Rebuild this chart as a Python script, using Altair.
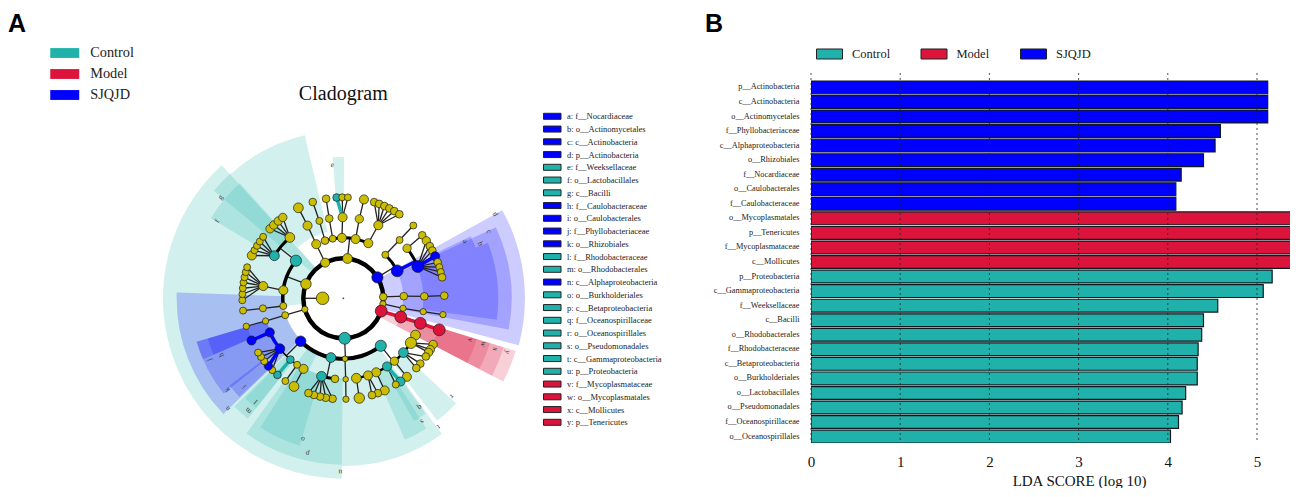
import math
import altair as alt
import pandas as pd

SERIF = "Liberation Serif"
SANS = "Liberation Sans"
TEAL, RED, BLUE, OLIVE = "#20B2AA", "#DC143C", "#0000FF", "#CBBD00"
GROUPS = ["Control", "Model", "SJQJD"]
GROUP_COLORS = [TEAL, RED, BLUE]
FILL = {"c": TEAL, "m": RED, "s": BLUE, "n": OLIVE}

# ---- Panel B: LDA scores ----
bar_taxa = ["p__Actinobacteria", "c__Actinobacteria", "o__Actinomycetales", "f__Phyllobacteriaceae",
            "c__Alphaproteobacteria", "o__Rhizobiales", "f__Nocardiaceae", "o__Caulobacterales",
            "f__Caulobacteraceae", "o__Mycoplasmatales", "p__Tenericutes", "f__Mycoplasmataceae",
            "c__Mollicutes", "p__Proteobacteria", "c__Gammaproteobacteria", "f__Weeksellaceae",
            "c__Bacilli", "o__Rhodobacterales", "f__Rhodobacteraceae", "c__Betaproteobacteria",
            "o__Burkholderiales", "o__Lactobacillales", "o__Pseudomonadales", "f__Oceanospirillaceae",
            "o__Oceanospirillales"]
bar_scores = [5.12, 5.12, 5.12, 4.59, 4.53, 4.40, 4.15, 4.09, 4.09, 5.39, 5.39, 5.39, 5.39,
              5.17, 5.07, 4.56, 4.40, 4.38, 4.34, 4.33, 4.33, 4.20, 4.16, 4.12, 4.03]
bar_groups = ["SJQJD"] * 9 + ["Model"] * 4 + ["Control"] * 12
score_ticks = [0, 1, 2, 3, 4, 5]

# ---- Panel A: taxon key ----
key_labels = ["a: f__Nocardiaceae", "b: o__Actinomycetales", "c: c__Actinobacteria", "d: p__Actinobacteria",
              "e: f__Weeksellaceae", "f: o__Lactobacillales", "g: c__Bacilli", "h: f__Caulobacteraceae",
              "i: o__Caulobacterales", "j: f__Phyllobacteriaceae", "k: o__Rhizobiales", "l: f__Rhodobacteraceae",
              "m: o__Rhodobacterales", "n: c__Alphaproteobacteria", "o: o__Burkholderiales", "p: c__Betaproteobacteria",
              "q: f__Oceanospirillaceae", "r: o__Oceanospirillales", "s: o__Pseudomonadales", "t: c__Gammaproteobacteria",
              "u: p__Proteobacteria", "v: f__Mycoplasmataceae", "w: o__Mycoplasmatales", "x: c__Mollicutes", "y: p__Tenericutes"]
key_groups = list("ssss" "ccc" "ssss" "cc" "s" "ccccccc" "mmmm")

# ---- Cladogram: taxon nodes per ring, angle in degrees clockwise from north ----
ring_radius = [20.7, 40, 60.5, 81, 101]

ring1_angle = [58.5, 88, 98, 108.6, 178, 254, 291, 333, 6]
ring1_size = [16, 11, 9, 17, 17, 9, 15, 13, 14]
ring1_group = list("snnmcnnnn")

ring2_angle = [44, 63, 88, 99.5, 108, 141.7, 178.4, 191.8, 224.8, 253.8, 262.7, 277.6, 308.4, 333.4, 342.4, 349.9, 358.7, 11.7, 24.4]
ring2_parent = [58.5, 58.5, 88, 98, 108.6, 178, 178, 178, 178, 254, 291, 291, 291, 333, 6, 6, 6, 6, 6]
ring2_size = [10, 17, 11, 9, 17, 16, 8, 14, 15, 10, 10, 13, 16, 13, 11, 10, 13, 13, 13]
ring2_group = list("nsnnmcncsnnncnnnnnn")

ring3_angle = [66.9, 51.9, 44, 88.6, 99.5, 108, 117, 123.4, 132.1, 140.9, 147.3, 156, 162.2, 170.7, 178.3, 185.9, 195.6,
               209.4, 214.8, 220.8, 231.5, 245.1, 253.7, 262.9, 278.7, 301.7, 318.7, 333.8, 342.8, 350, 359.5, 11.4, 25.6]
ring3_parent = [63, 63, 44, 88, 99.5, 108, 141.7, 141.7, 141.7, 141.7, 141.7, 141.7, 141.7, 141.7, 178.4, 191.8, 191.8,
                224.8, 224.8, 224.8, 224.8, 224.8, 253.8, 262.7, 277.6, 308.4, 308.4, 333.4, 342.4, 349.9, 358.7, 11.7, 24.4]
ring3_size = [17, 12, 10, 11, 9, 17, 14, 16, 14, 12, 13, 13, 13, 14, 8, 11, 14, 13, 10, 11, 14, 13, 9, 10, 13, 14, 14, 13, 10, 11, 13, 12, 13]
ring3_group = list("snnnnmnncnc" "nnnnnc" "nncss" "nnnc" "nnnnnnn")

ring4_angle = [43.9, 51.4, 55.3, 58.9, 61.8, 65.4, 69.1, 72, 74.9, 78, 88.5, 99.3, 108.2, 117.2, 120.5, 122.4, 125.2, 130.3, 133.7,
               141, 145.5, 148.7, 155.8, 160, 163.5, 170.9, 178.5, 186.1, 190, 193.3, 196.9, 200.2, 209.2, 215, 220.7,
               224.7, 227.9, 231.5, 234.5, 237.5, 245.3, 253.9, 263, 268.9, 272.4, 275.7, 279, 282, 285, 287.9,
               295.1, 298.4, 301.3, 304.2, 307.5, 313.5, 316.5, 319.9, 323.2, 333.6, 342.4, 350.2, 356.2, 359.4, 2.6, 11.8,
               17.8, 20.8, 24, 27.1, 30.3, 33.7]
ring4_parent = [44, 51.9, 66.9, 66.9, 66.9, 66.9, 66.9, 66.9, 66.9, 66.9, 88.6, 99.5, 108, 123.4, 123.4, 123.4, 132.1, 132.1, 132.1,
                140.9, 147.3, 147.3, 156, 162.2, 162.2, 170.7, 178.3, 195.6, 195.6, 195.6, 195.6, 195.6, 209.4, 214.8, 220.8,
                231.5, 231.5, 231.5, 231.5, 231.5, 245.1, 253.7, 262.9, 278.7, 278.7, 278.7, 278.7, 278.7, 278.7, 278.7,
                301.7, 301.7, 301.7, 301.7, 301.7, 318.7, 318.7, 318.7, 318.7, 333.8, 342.8, 350, 359.5, 359.5, 359.5, 11.4,
                25.6, 25.6, 25.6, 25.6, 25.6, 25.6]
ring4_size = [10, 11, 12, 11, 11, 13, 11, 10, 10, 11, 11, 9, 17, 12, 12, 12, 11, 11, 11,
              13, 13, 10, 13, 11, 11, 15, 9, 11, 11, 11, 11, 11, 14, 10, 11,
              10, 12, 10, 10, 10, 13, 9, 10, 10, 10, 10, 10, 10, 10, 10,
              13, 10, 10, 10, 10, 12, 12, 12, 12, 14, 11, 11, 11, 10, 10, 13,
              11, 11, 11, 11, 11, 11]
ring4_coloured = {65.4: "s", 108.2: "m", 145.5: "c", 220.7: "c", 227.9: "s", 245.3: "s", 356.2: "c"}
ring4_group = [ring4_coloured.get(a, "n") for a in ring4_angle]

# arcs that join sibling taxa on a ring
arc_level = [1, 2, 2, 2, 2, 3, 3, 3, 3, 3, 3]
arc_start = [0, 44, 141.7, 262.7, 342.4, 51.9, 117, 185.9, 209.4, 301.7, 231.5]
arc_end = [360, 63, 224.8, 308.4, 384.4, 66.9, 170.7, 195.6, 231.5, 318.7, 245.1]
arc_width = [4.5, 3, 4, 3.5, 3, 3, 2.5, 3, 1.5, 3, 3.5]
arc_group = ["k", "k", "k", "k", "k", "k", "k", "k", "k", "k", "s"]
stub_parents = {(1, 58.5), (1, 178), (1, 291), (1, 6), (2, 63), (2, 141.7), (2, 191.8), (2, 224.8), (2, 308.4)}

# shaded clade sectors (angles in degrees, radii in units of 1/3 px from the cladogram centre)
sector_start = [262, 180.5, 318, 144, 133, 147.5, 144.5, 180.5, 205.5, 196.5, 218.4, 218.5, 309.7, 301.2, 355.7,
                226, 231.5, 226.5, 246.5, 246.5, 61, 65, 69, 64, 107, 107, 107, 107]
sector_end = [317.6, 262, 346.7, 180.5, 142.5, 156.5, 150, 205.5, 215.6, 212.7, 225.2, 224.5, 318, 318, 360.3,
              272, 253.5, 232.5, 253.5, 253.5, 105, 100.7, 98, 69, 117.5, 117.5, 117.5, 117.5]
sector_inner = [125, 180, 205, 180, 240, 240, 290, 240, 180, 240, 240, 300, 125, 240, 290,
                178, 240, 300, 240, 300, 120, 180, 240, 300, 120, 180, 240, 300]
sector_outer = [541, 541, 503, 503, 463, 463, 425, 499, 499, 461, 461, 420, 505, 464, 424,
                500, 459, 430, 459, 424, 545, 505, 465, 425, 541, 503, 460, 419]
sector_group = ["Control"] * 15 + ["SJQJD"] * 9 + ["Model"] * 4

# clade letters round the rim
rim_text = list("dcbayxwvrtsqupolmnkijhgfe")
rim_angle = [61, 65.4, 68.2, 65, 108.2, 108.5, 108.2, 108.2, 132.2, 143.5, 147.4, 145, 181, 193, 196, 220.2, 220.2,
             226.4, 231.8, 228.3, 245.3, 245, 309.5, 301.5, 355.3]
rim_radius = [521, 480, 441.5, 403, 518, 480, 442, 400, 439, 479, 439, 399, 520, 477, 439, 406, 441,
              479, 442, 398, 443, 402.6, 477, 443.5, 401]

# ---- geometry helpers ----
CX, CY = 343.3, 298.3
X_SCALE = alt.Scale(domain=[8, 811], range=[0, 803])
Y_SCALE = alt.Scale(domain=[8, 486], range=[0, 478])
THETA = alt.Scale(domain=[0, 360], range=[0, 2 * math.pi])
RADIUS = alt.Scale(type="linear", domain=[0, 200], range=[0, 200])


def polar(angle, r):
    a = math.radians(angle)
    return CX + r * math.sin(a), CY - r * math.cos(a)


rings = {
    1: (ring1_angle, [None] * 9, ring1_size, ring1_group),
    2: (ring2_angle, ring2_parent, ring2_size, ring2_group),
    3: (ring3_angle, ring3_parent, ring3_size, ring3_group),
    4: (ring4_angle, ring4_parent, ring4_size, ring4_group),
}

nodes = [dict(x=polar(270, ring_radius[0])[0], y=CY, r=6, hex=OLIVE), dict(x=CX, y=CY, r=0.5, hex="#E0A000")]
edges = []
x0, y0 = polar(270, ring_radius[0])
x1, y1 = polar(270, ring_radius[1])
edges.append(dict(x=x0, y=y0, x2=x1, y2=y1, w=1.3, hex="#222222"))
seen_stub = set()
for lvl, (angles, parents, sizes, grps) in rings.items():
    for a, p, s, g in zip(angles, parents, sizes, grps):
        x, y = polar(a, ring_radius[lvl])
        nodes.append(dict(x=x, y=y, r=s / 3, hex=FILL[g]))
        if p is None:
            continue
        if (lvl - 1, p) in stub_parents:
            if (lvl - 1, p) not in seen_stub:
                seen_stub.add((lvl - 1, p))
                px, py = polar(p, ring_radius[lvl - 1])
                qx, qy = polar(p, ring_radius[lvl])
                thick = (lvl - 1, p) == (2, 63)
                edges.append(dict(x=px, y=py, x2=qx, y2=qy, w=3.5 if thick else 1.3, hex=BLUE if thick else "#222222"))
            continue
        px, py = polar(p, ring_radius[lvl - 1])
        coloured = g != "n" and lvl >= 2
        edges.append(dict(x=px, y=py, x2=x, y2=y, w=3.5 if coloured else 1.3, hex=FILL[g] if coloured else "#222222"))
edges.sort(key=lambda e: e["w"])
nodes_df = pd.DataFrame(nodes)
edges_df = pd.DataFrame(edges)

arcs_df = pd.DataFrame({
    "start": arc_start, "end": arc_end,
    "r1": [ring_radius[l] + w / 2 for l, w in zip(arc_level, arc_width)],
    "r2": [ring_radius[l] - w / 2 for l, w in zip(arc_level, arc_width)],
    "hex": [BLUE if g == "s" else "#000000" for g in arc_group],
    "cx": CX, "cy": CY})

sectors_df = pd.DataFrame({
    "start": sector_start, "end": sector_end,
    "r1": [v / 3 for v in sector_outer], "r2": [v / 3 for v in sector_inner],
    "group": sector_group, "cx": CX, "cy": CY, "order": range(len(sector_start))})

rim_df = pd.DataFrame({
    "text": rim_text, "rot": rim_angle,
    "x": [polar(a, r / 3)[0] for a, r in zip(rim_angle, rim_radius)],
    "y": [polar(a, r / 3)[1] for a, r in zip(rim_angle, rim_radius)]})

key_df = pd.DataFrame({"label": key_labels, "hex": [FILL[g] for g in key_groups]})
key_df["y"] = [116.3 + 12.75 * i for i in range(len(key_labels))]
key_df["y0"], key_df["y1"] = key_df.y - 3, key_df.y + 3
key_df["x0"], key_df["x1"], key_df["tx"] = 543.5, 561, 567

X = lambda f="x": alt.X(f"{f}:Q", scale=X_SCALE, axis=None)
Y = lambda f="y": alt.Y(f"{f}:Q", scale=Y_SCALE, axis=None)

sectors = alt.Chart(sectors_df).mark_arc(opacity=0.2).encode(
    x=X("cx"), y=Y("cy"),
    theta=alt.Theta("start:Q", scale=THETA), theta2="end:Q",
    radius=alt.Radius("r1:Q", scale=RADIUS), radius2="r2:Q",
    color=alt.Color("group:N", scale=alt.Scale(domain=GROUPS, range=GROUP_COLORS),
                    legend=alt.Legend(title=None, orient="none", legendX=49.25, legendY=37.5, direction="vertical",
                                      symbolType="M-2,-0.68H2V0.68H-2Z", symbolSize=210, symbolOpacity=1,
                                      symbolStrokeWidth=0, labelFont=SERIF, labelFontSize=14.3, labelColor="#222222",
                                      labelOffset=18, rowPadding=6)),
    order="order:Q")

rim = alt.Chart(rim_df).mark_text(font=SERIF, fontSize=7.5, color="#333333").encode(
    x=X(), y=Y(), text="text:N", angle=alt.Angle("rot:Q", scale=None))

edge_marks = alt.Chart(edges_df).mark_rule().encode(
    x=X(), y=Y(), x2="x2:Q", y2="y2:Q",
    stroke=alt.Stroke("hex:N", scale=None), strokeWidth=alt.StrokeWidth("w:Q", scale=None))

arc_marks = alt.Chart(arcs_df).mark_arc().encode(
    x=X("cx"), y=Y("cy"),
    theta=alt.Theta("start:Q", scale=THETA), theta2="end:Q",
    radius=alt.Radius("r1:Q", scale=RADIUS), radius2="r2:Q",
    fill=alt.Fill("hex:N", scale=None))

node_marks = alt.Chart(nodes_df).mark_point(filled=True, opacity=1, stroke="#1a1a1a", strokeWidth=0.7).encode(
    x=X(), y=Y(),
    size=alt.Size("r:Q", scale=alt.Scale(type="pow", exponent=2, domain=[0, 6], range=[0, math.pi * 36 * 1.4]), legend=None),
    fill=alt.Fill("hex:N", scale=None))

key_swatch = alt.Chart(key_df).mark_rect(stroke="#222222", strokeWidth=1).encode(
    x=X("x0"), x2="x1:Q", y=Y("y0"), y2="y1:Q", fill=alt.Fill("hex:N", scale=None))
key_text = alt.Chart(key_df).mark_text(font=SERIF, fontSize=8.5, align="left", color="#222222").encode(
    x=X("tx"), y=Y(), text="label:N")

letters_df = pd.DataFrame({"text": ["A", "B"], "x": [8, 705], "y": [23.5, 23.5]})
letters = alt.Chart(letters_df).mark_text(font=SANS, fontSize=25, fontWeight="bold", align="left", color="#000000").encode(
    x=X(), y=Y(), text="text:N")
title_df = pd.DataFrame({"text": ["Cladogram"], "x": [343.3], "y": [94]})
title = alt.Chart(title_df).mark_text(font=SERIF, fontSize=20, align="center", color="#111111").encode(
    x=X(), y=Y(), text="text:N")

panel_a = alt.layer(sectors, rim, edge_marks, arc_marks, node_marks, key_swatch, key_text, letters, title).properties(width=803, height=478)

bars_df = pd.DataFrame({"taxon": bar_taxa, "score": bar_scores, "group": bar_groups})
BX = alt.Scale(domain=[0, 5.37], range=[0, 479], nice=False)
bars = alt.Chart(bars_df).mark_bar(stroke="#101820", strokeWidth=1.2, clip=True).encode(
    x=alt.X("score:Q", scale=BX, axis=alt.Axis(values=score_ticks, grid=False, ticks=False, domain=False, labelFont=SERIF,
                                              labelFontSize=15, labelColor="#111111", labelPadding=11, labelFlush=False,
                                              title="LDA SCORE (log 10)", titleFont=SERIF, titleFontSize=15,
                                              titleFontWeight="normal", titleColor="#111111",
                                              titleX=268, titlePadding=4, format="d")),
    y=alt.Y("taxon:N", sort=bar_taxa, scale=alt.Scale(range=[65, 435], paddingInner=0.12, paddingOuter=0.275, align=1),
            axis=alt.Axis(title=None, domain=False, ticks=False, labelFont=SERIF, labelFontSize=8.3, labelColor="#222222",
                          labelPadding=12, labelLimit=200)),
    color=alt.Color("group:N", scale=alt.Scale(domain=GROUPS, range=GROUP_COLORS),
                    legend=alt.Legend(title=None, orient="none", legendX=11.5, legendY=38.5, direction="horizontal",
                                      symbolType="M-2,-0.77H2V0.77H-2Z", symbolSize=169, symbolStrokeColor="#222222",
                                      symbolStrokeWidth=1, symbolOpacity=1, labelFont=SERIF, labelFontSize=12.5,
                                      labelColor="#222222", labelOffset=15.5, columnPadding=28.5)))
grid_df = pd.DataFrame({"tick": score_ticks})
grid = alt.Chart(grid_df).mark_rule(color="#222222", strokeWidth=0.8, strokeDash=[2, 3]).encode(
    x=alt.X("tick:Q", scale=BX), y=alt.value(65), y2=alt.value(435))
panel_b = alt.layer(bars, grid).properties(width=479, height=435)

chart = alt.hconcat(panel_a, panel_b, spacing=0, bounds="flush").resolve_scale(color="independent").properties(
    padding=0, background="white").configure_view(stroke=None)

chart.save("out.html", embed_options={"renderer": "svg", "actions": False})
